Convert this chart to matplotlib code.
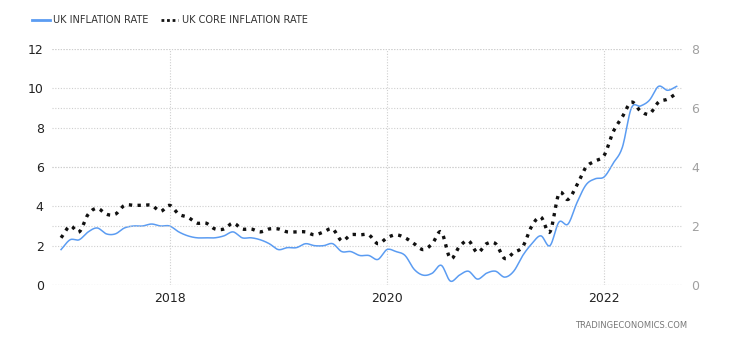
import numpy as np
import matplotlib.pyplot as plt

# monthly readings, Jan 2017 .. Sep 2022
months = np.arange(69)
cpi = [1.8, 2.3, 2.3, 2.7, 2.9, 2.6, 2.6, 2.9, 3.0, 3.0, 3.1, 3.0,
       3.0, 2.7, 2.5, 2.4, 2.4, 2.4, 2.5, 2.7, 2.4, 2.4, 2.3, 2.1,
       1.8, 1.9, 1.9, 2.1, 2.0, 2.0, 2.1, 1.7, 1.7, 1.5, 1.5, 1.3,
       1.8, 1.7, 1.5, 0.8, 0.5, 0.6, 1.0, 0.2, 0.5, 0.7, 0.3, 0.6,
       0.7, 0.4, 0.7, 1.5, 2.1, 2.5, 2.0, 3.2, 3.1, 4.2, 5.1, 5.4,
       5.5, 6.2, 7.0, 9.0, 9.1, 9.4, 10.1, 9.9, 10.1]
core = [1.6, 2.0, 1.8, 2.4, 2.6, 2.4, 2.4, 2.7, 2.7, 2.7, 2.7, 2.5,
        2.7, 2.4, 2.3, 2.1, 2.1, 1.9, 1.9, 2.1, 1.9, 1.9, 1.8, 1.9,
        1.9, 1.8, 1.8, 1.8, 1.7, 1.8, 1.9, 1.5, 1.7, 1.7, 1.7, 1.4,
        1.6, 1.7, 1.6, 1.4, 1.2, 1.4, 1.8, 0.9, 1.3, 1.5, 1.1, 1.4,
        1.4, 0.9, 1.1, 1.3, 2.0, 2.3, 1.8, 3.1, 2.9, 3.4, 4.0, 4.2,
        4.4, 5.2, 5.7, 6.2, 5.9, 5.8, 6.2, 6.3, 6.5]
year_ticks = [12, 36, 60]
year_labels = ['2018', '2020', '2022']


def smooth(x, y, n=12):
    # cubic Hermite curve through the monthly points
    x = np.asarray(x, float)
    y = np.asarray(y, float)
    m = np.gradient(y, x)
    xs, ys = [], []
    for i in range(len(x) - 1):
        h = x[i + 1] - x[i]
        t = np.linspace(0, 1, n, endpoint=False)
        h00 = 2 * t**3 - 3 * t**2 + 1
        h10 = t**3 - 2 * t**2 + t
        h01 = -2 * t**3 + 3 * t**2
        h11 = t**3 - t**2
        xs.append(x[i] + t * h)
        ys.append(h00 * y[i] + h10 * h * m[i] + h01 * y[i + 1] + h11 * h * m[i + 1])
    xs.append([x[-1]])
    ys.append([y[-1]])
    return np.concatenate(xs), np.concatenate(ys)


fig = plt.figure(figsize=(7.3, 3.4), dpi=100)
ax = fig.add_axes([52 / 730, 1 - 285 / 340, 631 / 730, 236 / 340])
ax2 = ax.twinx()

grid_kw = dict(color='#cfcfcf', linestyle=(0, (1, 1.5)), linewidth=0.8)
for a in (ax, ax2):
    for s in a.spines.values():
        s.set_visible(False)

ax.set_xlim(-1.0, 68.7)
ax.set_ylim(0, 12)
ax2.set_ylim(0, 8)
ax.set_yticks([0, 2, 4, 6, 8, 10, 12])
ax2.set_yticks([0, 2, 4, 6, 8])
ax.set_xticks(year_ticks)
ax.set_xticklabels(year_labels)
ax.grid(True, axis='both', **grid_kw)
ax2.grid(True, axis='y', **grid_kw)
ax.set_axisbelow(True)
ax2.set_axisbelow(True)

ax.tick_params(axis='y', length=0, pad=6, labelsize=9, labelcolor='#222222')
ax.tick_params(axis='x', length=0, pad=5, labelsize=9, labelcolor='#222222')
ax2.tick_params(axis='y', length=0, pad=6, labelsize=9, labelcolor='#a0a0a0')

bx, by = smooth(months, cpi)
cx, cy = smooth(months, core)
ax.plot(bx, by, color='#5b9cf2', linewidth=1.1, zorder=3)
ax2.plot(cx, cy, color='#111111', linewidth=2.4, linestyle=(0, (1, 1.6)), zorder=4)

# legend row
fig.lines.append(plt.Line2D([32 / 730, 50 / 730], [1 - 20 / 340] * 2, transform=fig.transFigure,
                            color='#5b9cf2', linewidth=2))
fig.text(53 / 730, 1 - 20 / 340, 'UK INFLATION RATE', fontsize=7, color='#333333', va='center')
fig.lines.append(plt.Line2D([161 / 730, 178 / 730], [1 - 20 / 340] * 2, transform=fig.transFigure,
                            color='#111111', linewidth=2, linestyle=(0, (1, 1))))
fig.text(182 / 730, 1 - 20 / 340, 'UK CORE INFLATION RATE', fontsize=7, color='#333333', va='center')

fig.text(687 / 730, 1 - 325 / 340, 'TRADINGECONOMICS.COM', fontsize=6, color='#777777',
         ha='right', va='center')

fig.savefig('out.png', dpi=100)
